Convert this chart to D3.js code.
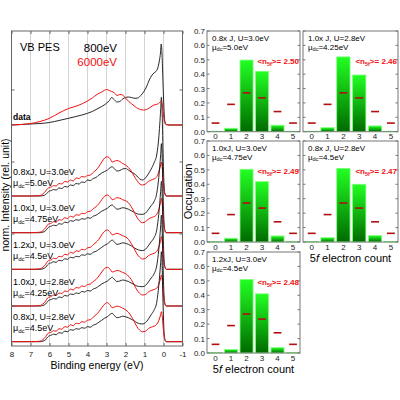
<!DOCTYPE html>
<html><head><meta charset="utf-8">
<script src="https://cdn.jsdelivr.net/npm/d3@7"></script>
<style>body{margin:0;background:#fff} svg{font-family:"Liberation Sans",Arial,sans-serif}</style>
</head><body><svg id="c" width="400" height="400"></svg>
<script>
// ---------- spectra (binding energy in eV, intensity in arbitrary units) ----------
const energyTicks = [8, 7, 6, 5, 4, 3, 2, 1, 0, -1];
const intensityTicks = [40, 112, 184, 256];

const energyData = [8, 7.5, 7, 6.5, 6, 5.5, 5, 4.5, 4, 3.75, 3.5, 3.25, 3, 2.85, 2.73, 2.6, 2.45, 2.3, 2.15, 2, 1.85, 1.7, 1.5, 1.35, 1.2, 1.05, 0.9, 0.75, 0.6, 0.5, 0.4, 0.3, 0.22, 0.16, 0.12, 0.08, 0.04, 0, -0.04, -0.08, -0.15, -0.3, -1];
const data800 = [0, 0.5, 1, 1.5, 2.5, 4.5, 6.7, 9, 11.7, 13.5, 16, 18.5, 21.7, 24.5, 27.5, 25.5, 23, 23.5, 26, 27.5, 28, 27.5, 26.7, 27, 29.5, 33, 38, 45, 50, 52, 53.5, 57, 64, 72, 81, 72, 50, 28, 10, 3, 0.5, 0, 0];
const data6000 = [0, 0.5, 1.5, 3.5, 6.7, 12, 16.5, 19.5, 24, 27, 30.5, 33, 35.5, 34.5, 33.5, 32.5, 29.5, 30.5, 30, 26.7, 24, 21.5, 18.5, 16.5, 15.5, 15, 15.5, 17, 19, 20, 20.5, 21, 22, 23.5, 24, 22, 17, 10, 4, 1.5, 0.3, 0, 0];

const energyCalc = [8, 7, 6.5, 6.35, 6.2, 6.1, 6.0, 5.9, 5.8, 5.65, 5.5, 5.35, 5.2, 5.05, 4.9, 4.75, 4.6, 4.45, 4.3, 4.15, 4.0, 3.85, 3.7, 3.55, 3.4, 3.25, 3.1, 2.95, 2.8, 2.7, 2.6, 2.45, 2.3, 2.15, 2.0, 1.85, 1.7, 1.55, 1.4, 1.25, 1.1, 0.95, 0.8, 0.65, 0.5, 0.35, 0.25, 0.15, 0.11, 0.07, 0.02, -0.03, -0.08, -0.15, -1];

const calc800_1 = [0,0,0,0.3,1.5,3.5,5,5.5,6.5,6,8,7.5,9.5,9,11,10.5,12.5,12,14,13.5,16,15.5,17.5,18.5,21,23,24.5,26,28.5,29.3,27.5,25,25.5,27,27.5,26,24,22.5,20,17,16,18,22,27,33,42,58,86,99,82,38,11,2,0,0];
const calc800_2 = [0,0,0,0.5,2,4.5,6,6.5,7.5,7,9,8.5,10.5,10,12,11.5,13,12.5,14,13.5,15,14.5,16.5,17.5,19.5,21.5,23,24.5,27,27.7,26,23.5,24,25,24.5,23.5,22,20.5,19,18.4,18.4,19.5,23,27,31,40,55,78,89,75,35,10,2,0,0];
const calc800_3 = [0,0,0,0.5,2,4.5,6,6.5,7.5,7,9,8.5,10.5,10,12,11.5,13,12.5,14.5,14,15.5,15,17,18,20,22,24,25.5,28,29.3,27.5,25,25.5,26.5,26,25,23.5,21.5,20,19,18.7,20,23.5,27.5,31.5,40,55,78,88,74,35,10,2,0,0];
const calc800_4 = [0,0,0,0.5,2,4.5,6,6.5,7.5,7,9,8.5,10.5,10,12,11.5,13,12.5,14.5,14,15.5,15,17,18,20,22,23.5,25,27.5,28.7,27,24.5,25,26,25.5,24.5,23,21.5,20,19.5,19.3,20.5,24,28,32,41,56,80,91,76,36,10,2,0,0];
const calc800_5 = [0,0,0,0.5,2,4.5,6,6.5,7.5,7,9,8.5,10.5,10,12,11.5,13,12.5,14,13.5,15,14.5,16.5,17.5,19.5,21.5,23.5,25,27.5,28.4,26.5,24,24.5,25.5,25,24,22.5,21,19,18,17.7,19,22.5,27,31.5,40,56,79,90,75,35,10,2,0,0];

const calc6000_1 = [0,0,0.5,2,5,7.5,8.5,9,10.5,10,12.5,12,14.5,14,16,15,18,17.5,19.5,19,20.5,21,23.5,26,29.5,34,38,39.3,37,34,34.5,35.5,34.5,32.5,31,28.5,25,20,15.5,12,11,12,14.5,16,17,19.5,24,31,34,29.5,17,6,1.5,0,0];
const calc6000_2 = [0,0,0.5,2,5,8,9,9.5,11,10.5,13,12.5,15,14,16.5,15.5,18,17.5,19.5,19,21,21.5,24,26,29,33,36.5,37.7,35.5,33,33.5,35,34.5,33,32,30,26,21,15.5,11.5,10,11,13.5,15,16,18.5,23,31,34.4,30,17,6,1.5,0,0];
const calc6000_3 = [0,0,0.5,2,5,8,9,9.5,11,10.5,13,12.5,15,14.5,17,16,18.5,18,20,19.5,21.5,22,24.5,27,30,34.5,38,39.3,37,34.5,35,36,35,33.5,32.5,30,26,21,15.5,12,10.3,11,13.5,15,16,18,22,29,32.6,28.5,16,6,1.5,0,0];
const calc6000_4 = [0,0,0.5,2,5,8,9,9.5,11,10.5,13,12.5,15,14.5,17,16,18.5,18,20,19.5,21.5,22,24.5,26.5,30,34,37.5,38.7,36.5,34,34.5,35.5,35,33.5,32.5,30,26.5,21.5,16,12.5,11,11.5,14,15.5,16.5,18,21.5,28,31,27,15.5,5.5,1.5,0,0];
const calc6000_5 = [0,0,0.5,2,5,8,9,9.5,11,10.5,13,12.5,15,14.5,17,16,18.5,18,20,19.5,21.5,22,24.5,27,30,34,37.5,39,36.5,34,34.5,35.5,35,33.5,32,29.5,25.5,20.5,15,11.5,10,10.5,13,14.5,15.5,17.5,21,27,30,26,15,5.5,1.5,0,0];

const dataOffset = 221;
const calcOffsets = [150, 113.3, 76.7, 40, 4.3];
const calcLine1 = ["0.8xJ, U=3.0eV", "1.0xJ, U=3.0eV", "1.2xJ, U=3.0eV", "1.0xJ, U=2.8eV", "0.8xJ, U=2.8eV"];
const calcMu = ["5.0eV", "4.75eV", "4.5eV", "4.25eV", "4.5eV"];

// ---------- occupations ----------
const electronCount = [0, 1, 2, 3, 4, 5];
const occTicks = [0, 0.1, 0.2, 0.3, 0.4, 0.5, 0.6, 0.7];
const occ1 = [0.003, 0.024, 0.498, 0.42, 0.045, 0.003];
const occ2 = [0.003, 0.028, 0.52, 0.394, 0.04, 0.003];
const occ3 = [0.003, 0.026, 0.504, 0.418, 0.042, 0.003];
const occ4 = [0.003, 0.03, 0.51, 0.40, 0.044, 0.003];
const occ5 = [0.003, 0.024, 0.51, 0.41, 0.037, 0.003];
const occRef = [0.06, 0.19, 0.27, 0.235, 0.14, 0.06];
const panelLine1 = ["0.8x J, U=3.0eV", "1.0x J, U=2.8eV", "1.0xJ, U=3.0eV", "0.8x J, U=2.8eV", "1.2xJ, U=3.0eV"];
const panelMu = ["5.0eV", "4.25eV", "4.75eV", "4.5eV", "4.5eV"];
const panelN5f = ["2.50", "2.46", "2.49", "2.47", "2.48"];

const svg = d3.select("#c");

// ===== left spectra panel =====
const L = {x0: 11.5, x1: 182.5, y0: 31, y1: 346};
const xE = d3.scaleLinear().domain([8, -1]).range([L.x0, L.x1]);
const yI = d3.scaleLinear().domain([0, 315]).range([L.y1, L.y0]);

svg.append("g").selectAll("line").data(energyTicks.filter(d => d < 8 && d > -1)).join("line")
  .attr("x1", d => xE(d)).attr("x2", d => xE(d)).attr("y1", L.y0).attr("y2", L.y1)
  .attr("stroke", "#d4d4d4").attr("stroke-width", 1);

const line = d3.line().curve(d3.curveMonotoneX);
function drawSpec(E, I, off, color, w) {
  svg.append("path").attr("d", line(E.map((e, i) => [xE(e), yI(I[i] + off)])))
    .attr("fill", "none").attr("stroke", color).attr("stroke-width", w).attr("stroke-linejoin", "round");
}
const calcBlack = [calc800_1, calc800_2, calc800_3, calc800_4, calc800_5];
const calcRed = [calc6000_1, calc6000_2, calc6000_3, calc6000_4, calc6000_5];
calcOffsets.forEach((off, k) => {
  drawSpec(energyCalc, calcBlack[k], off, "#111", 0.9);
  drawSpec(energyCalc, calcRed[k], off, "#f01010", 1.0);
});
drawSpec(energyData, data800, dataOffset, "#111", 0.9);
drawSpec(energyData, data6000, dataOffset, "#f01010", 1.0);

// frame + axes
svg.append("rect").attr("x", L.x0).attr("y", L.y0).attr("width", L.x1 - L.x0).attr("height", L.y1 - L.y0)
  .attr("fill", "none").attr("stroke", "#666").attr("stroke-width", 1);
const axB = svg.append("g").attr("transform", `translate(0,${L.y1})`)
  .call(d3.axisBottom(xE).tickValues(energyTicks).tickSize(-3).tickPadding(5).tickFormat(d => String(d)));
axB.select(".domain").remove();
axB.selectAll("line").attr("stroke", "#666");
axB.selectAll("text").attr("font-size", 8).attr("fill", "#222").attr("font-family", "Liberation Sans, Arial");
const axT = svg.append("g").attr("transform", `translate(0,${L.y0})`)
  .call(d3.axisTop(xE).tickValues(energyTicks).tickSize(-3).tickFormat(""));
axT.select(".domain").remove(); axT.selectAll("line").attr("stroke", "#666");
[L.x0, L.x1].forEach((x, s) => {
  svg.append("g").selectAll("line").data(intensityTicks).join("line")
    .attr("x1", x).attr("x2", s ? x - 3 : x + 3).attr("y1", d => yI(d)).attr("y2", d => yI(d))
    .attr("stroke", "#666");
});

svg.append("text").attr("x", 20).attr("y", 51).attr("font-size", 11).text("VB PES");
svg.append("text").attr("x", 117).attr("y", 52).attr("font-size", 11.5).attr("text-anchor", "end").text("800eV");
svg.append("text").attr("x", 117).attr("y", 65.5).attr("font-size", 11.5).attr("text-anchor", "end").attr("fill", "#f01010").text("6000eV");
svg.append("text").attr("x", 13).attr("y", yI(dataOffset + 5)).attr("font-size", 8.5).attr("font-weight", "bold").text("data");

calcOffsets.forEach((off, k) => {
  svg.append("text").attr("x", 13).attr("y", yI(off + 21.5)).attr("font-size", 9).text(calcLine1[k]);
  const t = svg.append("text").attr("x", 13).attr("y", yI(off + 10.5)).attr("font-size", 9);
  t.append("tspan").text("μ");
  t.append("tspan").attr("font-size", 6).attr("dy", 2).text("dc");
  t.append("tspan").attr("dy", -2).text("=" + calcMu[k]);
});

svg.append("text").attr("transform", "translate(9,195) rotate(-90)").attr("text-anchor", "middle")
  .attr("font-size", 10.5).text("norm. Intensity (rel. unit)");
svg.append("text").attr("x", 97).attr("y", 369).attr("text-anchor", "middle").attr("font-size", 10.5).text("Binding energy (eV)");

// ===== occupation panels =====
const defs = svg.append("defs");
const grad = defs.append("linearGradient").attr("id", "g").attr("x1", 0).attr("x2", 0).attr("y1", 0).attr("y2", 1);
grad.append("stop").attr("offset", "0%").attr("stop-color", "#22ff22");
grad.append("stop").attr("offset", "100%").attr("stop-color", "#006a00");

const panels = [
  {occ: occ1, x0: 207, x1: 300, y0: 31, y1: 131.7, yl: true},
  {occ: occ2, x0: 303, x1: 398, y0: 31, y1: 131.7, yl: false},
  {occ: occ3, x0: 207, x1: 300, y0: 141, y1: 242, yl: true},
  {occ: occ4, x0: 303, x1: 398, y0: 141, y1: 242, yl: false},
  {occ: occ5, x0: 207, x1: 300, y0: 252, y1: 353, yl: true}
];
panels.forEach((p, k) => {
  const x = d3.scaleLinear().domain([-0.55, 5.45]).range([p.x0, p.x1]);
  const y = d3.scaleLinear().domain([0, 0.7]).range([p.y1, p.y0]);
  const unit = x(1) - x(0);
  const g = svg.append("g");
  g.selectAll("rect.bar").data(electronCount).join("rect").attr("class", "bar")
    .attr("x", d => x(d) - unit * 0.42).attr("width", unit * 0.84)
    .attr("y", d => y(p.occ[d])).attr("height", d => y(0) - y(p.occ[d]))
    .attr("fill", "url(#g)").attr("stroke", "#7dff7d").attr("stroke-width", 0.8);
  g.selectAll("line.ref").data(electronCount).join("line").attr("class", "ref")
    .attr("x1", d => x(d) - unit * 0.25).attr("x2", d => x(d) + unit * 0.25)
    .attr("y1", d => y(occRef[d])).attr("y2", d => y(occRef[d]))
    .attr("stroke", "#b01010").attr("stroke-width", 1.6);
  g.append("rect").attr("x", p.x0).attr("y", p.y0).attr("width", p.x1 - p.x0).attr("height", p.y1 - p.y0)
    .attr("fill", "none").attr("stroke", "#777").attr("stroke-width", 1);
  [p.x0, p.x1].forEach((xx, s) => {
    g.selectAll(null).data(occTicks).join("line")
      .attr("x1", xx).attr("x2", s ? xx - 2.5 : xx + 2.5).attr("y1", d => y(d)).attr("y2", d => y(d))
      .attr("stroke", "#777");
  });
  if (p.yl) {
    g.selectAll(null).data(occTicks).join("text").attr("x", p.x0 - 2).attr("y", d => y(d) + 3)
      .attr("text-anchor", "end").attr("font-size", 8).attr("fill", "#222").text(d => d.toFixed(1));
  }
  g.selectAll(null).data(electronCount).join("text").attr("x", d => x(d)).attr("y", p.y1 + 7.5)
    .attr("text-anchor", "middle").attr("font-size", 8).attr("fill", "#222").text(d => d);
  g.append("text").attr("x", p.x0 + 5).attr("y", p.y0 + 10).attr("font-size", 8).text(panelLine1[k]);
  const t = g.append("text").attr("x", p.x0 + 5).attr("y", p.y0 + 18.5).attr("font-size", 8);
  t.append("tspan").text("μ");
  t.append("tspan").attr("font-size", 5.5).attr("dy", 1.8).text("dc");
  t.append("tspan").attr("dy", -1.8).text("=" + panelMu[k]);
  const n = g.append("text").attr("x", p.x1 - 1).attr("y", p.y0 + 32.5).attr("text-anchor", "end")
    .attr("font-size", 8).attr("font-weight", "bold").attr("fill", "#f01010");
  n.append("tspan").text("<n");
  n.append("tspan").attr("font-size", 5.5).attr("dy", 2).text("5f");
  n.append("tspan").attr("dy", -2).text(">= " + panelN5f[k]);
});

svg.append("text").attr("transform", "translate(192,191.5) rotate(-90)").attr("text-anchor", "middle")
  .attr("font-size", 11).text("Occupation");
[[350.5, 262], [253.5, 373]].forEach(([cx, cy]) => {
  const t = svg.append("text").attr("x", cx).attr("y", cy).attr("text-anchor", "middle").attr("font-size", 11);
  t.append("tspan").text("5");
  t.append("tspan").attr("font-style", "italic").text("f");
  t.append("tspan").text(" electron count");
});
</script></body></html>
